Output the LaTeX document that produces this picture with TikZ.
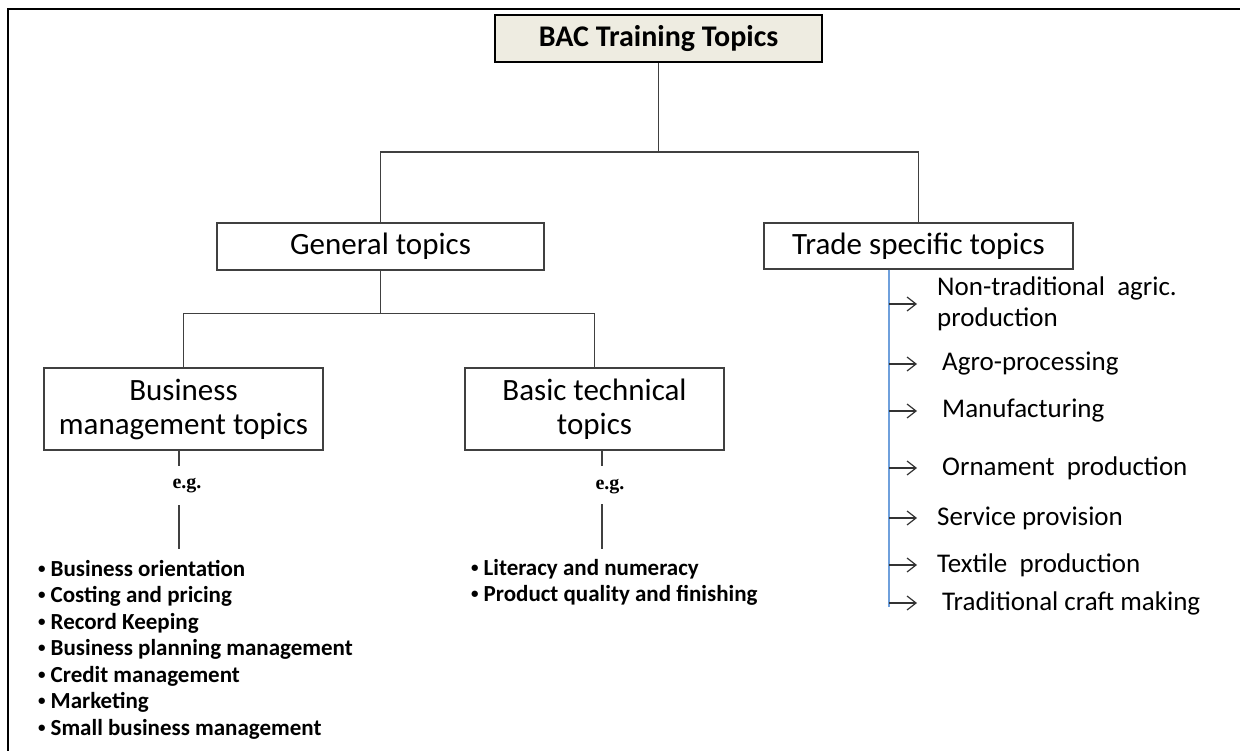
\documentclass[tikz,border=0pt]{standalone}
\usepackage{fontspec}
\setmainfont{Carlito}
\newfontfamily\egfont{Liberation Serif}
\usetikzlibrary{arrows.meta,positioning}
\definecolor{boxfill}{HTML}{EEECE1}
\definecolor{spineblue}{HTML}{6FA0DC}
\newcommand{\bul}{\raisebox{3pt}{\fontsize{15}{15}\selectfont\textbullet}\hspace{5pt}}

\begin{document}
\begin{tikzpicture}[x=1pt,y=-1pt, every node/.style={inner sep=0pt},
 topbox/.style={draw,line width=2.2pt,fill=boxfill,minimum width=327pt,minimum height=47pt,font=\bfseries\fontsize{30}{34}\selectfont},
 box/.style={draw=black!75,line width=1.3pt,align=center,font=\fontsize{31}{34}\selectfont},
 conn/.style={draw=black!75,line width=1.3pt},
 arr/.style={-{Straight Barb[length=9pt,width=14pt]},line width=1.2pt,black!80},
 itemlist/.style={align=left,anchor=north west,font=\bfseries\fontsize{23}{26.5}\selectfont},
 trade/.style={anchor=west,align=left,font=\fontsize{27}{31}\selectfont},
 eg/.style={font=\egfont\bfseries\fontsize{20}{24}\selectfont}]
\useasboundingbox (0,0) rectangle (1240,751);
\draw[line width=2pt] (8,751) -- (8,9) -- (1240,9);
% boxes
\node[topbox] (bac) at (658.5,38.5) {BAC Training Topics};
\node[box,minimum width=327pt,minimum height=47pt] (gen) at (380.5,246.5) {General topics};
\node[box,minimum width=309pt,minimum height=46pt] (trd) at (918.5,246) {Trade specific topics};
\node[box,minimum width=279pt,minimum height=82pt] (bus) at (183.5,409) {Business\\management topics};
\node[box,minimum width=259pt,minimum height=82pt] (tech) at (594.5,409) {Basic technical\\topics};
% tree
\draw[conn] (bac.south) -- ++(0,89) coordinate (j1);
\draw[conn] (gen.north) |- (j1) -| (trd.north);
\draw[conn] (gen.south) -- ++(0,43) coordinate (j2);
\draw[conn] (bus.north) |- (j2) -| (tech.north);
% e.g. links
\coordinate (bl) at (179,0);
\coordinate (tl) at (602,0);
\node[eg] (eg1) at (187,486) {e.g.};
\node[eg] (eg2) at (610,487) {e.g.};
\draw[conn] (bus.south -| bl) -- ++(0,15);
\draw[conn] (eg1 -| bl) ++(0,19) -- ++(0,44);
\draw[conn] (tech.south -| tl) -- ++(0,15);
\draw[conn] (eg2 -| tl) ++(0,17) -- ++(0,45);
% lists
\node[itemlist] (bml) at (38,560) {\bul Business orientation\\\bul Costing and pricing\\\bul Record Keeping\\\bul Business planning management\\\bul Credit management\\\bul Marketing\\\bul Small business management};
\node[itemlist] (btl) at (471,559) {\bul Literacy and numeracy\\\bul Product quality and finishing};
% trade specific
\coordinate (spine) at (889,607);
\coordinate (tip) at (917,0);
\draw[spineblue,line width=1.3pt] (trd.south -| spine) -- (spine);
\node[trade] (t1) at (937,304) {Non-traditional\ \ agric.\\production};
\node[trade] (t2) at (942,364) {Agro-processing};
\node[trade] (t3) at (942,411) {Manufacturing};
\node[trade] (t4) at (942,468) {Ornament\ \ production};
\node[trade] (t5) at (937,518) {Service provision};
\node[trade] (t6) at (937,565) {Textile\ \ production};
\node[trade] (t7) at (942,603) {Traditional craft making};
\foreach \t in {t1,t2,t3,t4,t5,t6,t7}
  \draw[arr] (\t.west -| spine) -- (\t.west -| tip);
\end{tikzpicture}
\end{document}
